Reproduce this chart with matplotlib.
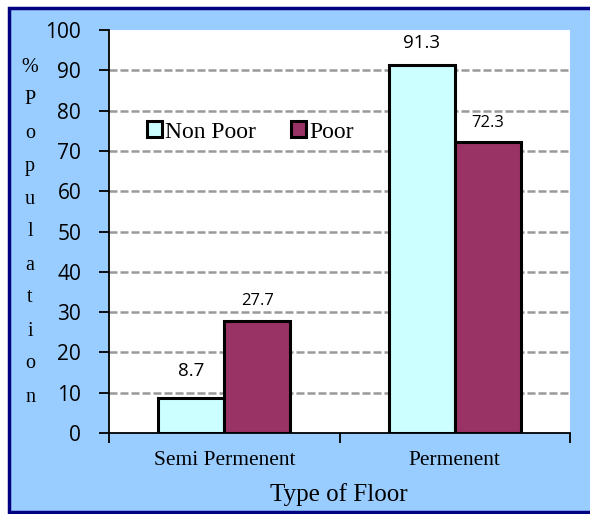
import matplotlib
matplotlib.use("Agg")
import matplotlib.pyplot as plt
from matplotlib.patches import Rectangle
import numpy as np

categories = ["Semi Permenent", "Permenent"]
non_poor = [8.7, 91.3]
poor = [27.7, 72.3]
series_names = ["Non Poor", "Poor"]
y_ticks = [0, 10, 20, 30, 40, 50, 60, 70, 80, 90, 100]

W, H = 590, 514
fig = plt.figure(figsize=(W / 100, H / 100), dpi=100, facecolor="white")

# light blue panel with a navy frame
fig.patches.append(Rectangle((8.5 / W, 1 - 511.5 / H), (W + 10) / W, (511.5 - 7.5) / H,
                             transform=fig.transFigure, facecolor="#99CCFF",
                             edgecolor="#000080", linewidth=2.5, zorder=-5))

ax = fig.add_axes([109 / W, 1 - 433 / H, (570 - 109) / W, (433 - 30) / H])
ax.set_facecolor("white")

x = np.arange(len(categories))
bw = 0.287
b1 = ax.bar(x - bw / 2, non_poor, bw, color="#CCFFFF", edgecolor="black", linewidth=2.2,
            label=series_names[0], zorder=3)
b2 = ax.bar(x + bw / 2, poor, bw, color="#993366", edgecolor="black", linewidth=2.2,
            label=series_names[1], zorder=3)

# value labels: (font size, gap above bar in points) per bar
label_style = {
    (0, 0): (13.5, 19.5), (0, 1): (13.5, 16),
    (1, 0): (12, 14.5), (1, 1): (12, 13.5),
}
for si, (bars, vals) in enumerate(((b1, non_poor), (b2, poor))):
    for ci, (r, v) in enumerate(zip(bars, vals)):
        fs, gap = label_style[(si, ci)]
        ax.annotate(f"{v}", (r.get_x() + r.get_width() / 2, v), xytext=(0, gap),
                    textcoords="offset points", ha="center", va="center",
                    fontsize=fs, family="Open Sans", color="black")

ax.set_xlim(-0.5, 1.5)
ax.set_ylim(0, 100)
ax.set_yticks(y_ticks)
ax.set_yticklabels([str(t) for t in y_ticks], fontsize=15, family="Open Sans")
ax.set_xticks([-0.5, 0.5, 1.5])
ax.set_xticklabels([])
ax.tick_params(axis="x", length=7, width=1.3, direction="out")
ax.tick_params(axis="y", length=7, width=1.3, direction="out", pad=13)
for t, c in zip(x, categories):
    ax.annotate(c, (t, 0), xytext=(0, -20), textcoords="offset points",
                ha="center", va="center", fontsize=15.5, family="Liberation Serif")

for yv in y_ticks[1:-1]:
    ax.axhline(yv, color="#999999", linewidth=1.8, linestyle=(0, (3.2, 1.2)), zorder=1)

for s in ("top", "right"):
    ax.spines[s].set_visible(False)
for s in ("left", "bottom"):
    ax.spines[s].set_linewidth(1.3)

ax.legend(loc="center left", bbox_to_anchor=((147 - 109) / 461, (433 - 132) / 403), ncol=2,
          frameon=False, prop={"family": "Liberation Serif", "size": 17},
          handlelength=0.64, handleheight=0.64, handletextpad=0.12, columnspacing=1.5,
          borderaxespad=0, borderpad=0)

fig.text(30 / W, 1 - 232 / H, "\n".join("%Population"), ha="center", va="center",
         fontsize=14.5, family="Liberation Serif", linespacing=2.0)
fig.text(339 / W, 1 - 495 / H, "Type of Floor", ha="center", va="center",
         fontsize=18, family="Liberation Serif")

fig.savefig("out.png", dpi=100, facecolor="white")
